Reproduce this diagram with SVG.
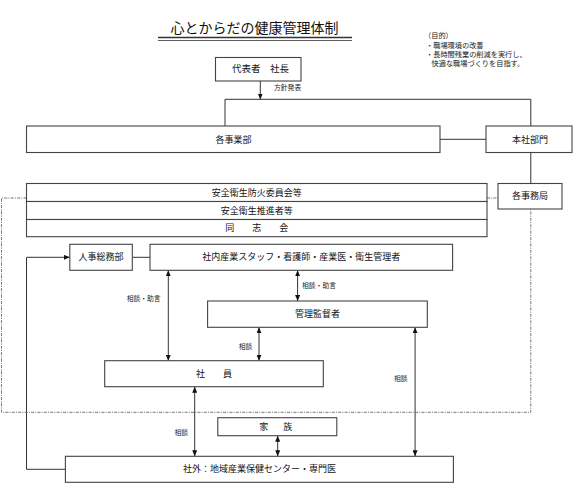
<svg xmlns="http://www.w3.org/2000/svg" width="576" height="489" viewBox="0 0 576 489">
<style>
.box{fill:#fff;stroke:#444;stroke-width:1.1}
.t{font-family:"Noto Sans CJK JP","Noto Sans",sans-serif;font-size:9px;fill:#111;text-anchor:middle}
.s{font-family:"Noto Sans CJK JP","Noto Sans",sans-serif;font-size:6.8px;fill:#222}
.c{fill:none;stroke:#333;stroke-width:1}
.d{fill:none;stroke:#666;stroke-width:0.9;stroke-dasharray:3 1.2 1 1.2}
</style>
<defs>
<marker id="ah" markerUnits="userSpaceOnUse" markerWidth="6" markerHeight="5" refX="6" refY="2.5" orient="auto-start-reverse">
<path d="M0,0 L6,2.5 L0,5 z" fill="#111"/>
</marker>
</defs>
<rect width="576" height="489" fill="#fff"/>
<g id="title">
<text x="254.5" y="33" style="font-family:'Noto Sans CJK JP',sans-serif;font-size:14px;fill:#111;text-anchor:middle">心とからだの健康管理体制</text>
<line x1="158" y1="37.5" x2="352" y2="37.5" stroke="#333" stroke-width="1.4"/>
<line x1="158" y1="40.5" x2="352" y2="40.5" stroke="#333" stroke-width="0.8"/>
</g>
<g id="purpose" style="font-family:'Noto Sans CJK JP',sans-serif;font-size:7.2px;fill:#222">
<text x="424" y="38.3">（目的）</text>
<text x="426" y="48.3">・職場環境の改善</text>
<text x="426" y="56.9">・長時間残業の削減を実行し、</text>
<text x="431.5" y="65.9">快適な職場づくりを目指す。</text>
</g>
<g id="connectors">
<line class="c" x1="260.3" y1="81" x2="260.3" y2="99.5" marker-end="url(#ah)"/>
<polyline class="c" points="225,126 225,99.3 530.8,99.3 530.8,126"/>
<line class="c" x1="440" y1="139.3" x2="486" y2="139.3"/>
<line class="c" x1="530.8" y1="152.5" x2="530.8" y2="183.5"/>
<line class="c" x1="132.3" y1="257.3" x2="150" y2="257.3"/>
<polyline class="c" points="65.4,469.3 26.5,469.3 26.5,257.3 69.8,257.3" marker-end="url(#ah)"/>
<line class="c" x1="168.3" y1="270.3" x2="168.3" y2="360.7" marker-start="url(#ah)" marker-end="url(#ah)"/>
<line class="c" x1="297.6" y1="270.3" x2="297.6" y2="301" marker-start="url(#ah)" marker-end="url(#ah)"/>
<line class="c" x1="259" y1="327.3" x2="259" y2="360.7" marker-start="url(#ah)" marker-end="url(#ah)"/>
<line class="c" x1="415.1" y1="327.3" x2="415.1" y2="456.3" marker-start="url(#ah)" marker-end="url(#ah)"/>
<line class="c" x1="194.7" y1="386.7" x2="194.7" y2="456.3" marker-start="url(#ah)" marker-end="url(#ah)"/>
<line class="c" x1="277.7" y1="435.7" x2="277.7" y2="456.3" marker-start="url(#ah)" marker-end="url(#ah)"/>
<polyline class="d" points="26.5,198 1.5,198 1.5,412.3 530.8,412.3 530.8,209"/>
<line class="d" x1="487" y1="198" x2="498" y2="198"/>
<text class="s" x="274" y="90">方針発表</text>
<text class="s" x="126.7" y="300.8">相談・助言</text>
<text class="s" x="302" y="288.2">相談・助言</text>
<text class="s" x="238.8" y="348.5">相談</text>
<text class="s" x="394" y="380.8">相談</text>
<text class="s" x="174.5" y="435.2">相談</text>
</g>
<g id="daihyo"><rect class="box" x="215.5" y="57.5" width="85.5" height="23.5"/><text class="t" x="260.5" y="72.3" style="font-size:9.5px">代表者　社長</text></g>
<g id="kakujigyobu"><rect class="box" x="26.5" y="126" width="413.5" height="26.5"/><text class="t" x="233.5" y="142.5">各事業部</text></g>
<g id="honsha"><rect class="box" x="486" y="126" width="86" height="26.5"/><text class="t" x="530" y="142.5">本社部門</text></g>
<g id="jimukyoku"><rect class="box" x="498" y="183.5" width="64" height="25.5"/><text class="t" x="530" y="199.4">各事務局</text></g>
<g id="iinkai"><rect class="box" x="26.5" y="183.5" width="460.5" height="18"/><text class="t" x="256.7" y="195.6">安全衛生防火委員会等</text></g>
<g id="suishinsha"><rect class="box" x="26.5" y="201.5" width="460.5" height="18"/><text class="t" x="256.7" y="213.6">安全衛生推進者等</text></g>
<g id="doshikai"><rect class="box" x="26.5" y="219.5" width="460.5" height="17.2"/><text class="t" x="256.7" y="231.2">同　　志　　会</text></g>
<g id="jinji"><rect class="box" x="69.8" y="244.3" width="62.5" height="26"/><text class="t" x="101" y="260.4">人事総務部</text></g>
<g id="shanai"><rect class="box" x="150" y="244.3" width="302.6" height="26"/><text class="t" x="301.3" y="260.4">社内産業スタッフ・看護師・産業医・衛生管理者</text></g>
<g id="kanri"><rect class="box" x="207.6" y="301" width="219.7" height="26.3"/><text class="t" x="317.5" y="317.2">管理監督者</text></g>
<g id="shain"><rect class="box" x="104.7" y="360.7" width="218.6" height="26"/><text class="t" x="214" y="376.8">社　　員</text></g>
<g id="kazoku"><rect class="box" x="217.8" y="417.7" width="119" height="18"/><text class="t" x="277.3" y="429.8" style="letter-spacing:3px">家　族</text></g>
<g id="shagai"><rect class="box" x="65.4" y="456.3" width="388" height="26"/><text class="t" x="259.4" y="472.4">社外：地域産業保健センター・専門医</text></g>
</svg>
